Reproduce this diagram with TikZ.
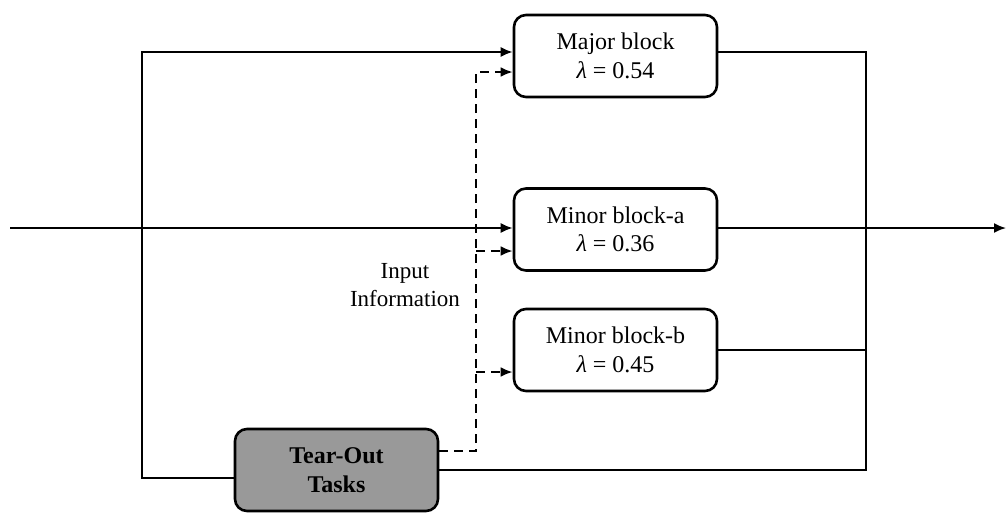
\documentclass[tikz,border=0pt]{standalone}
\usepackage{fontspec}
\setmainfont{Liberation Serif}
\usetikzlibrary{arrows.meta}
\begin{document}
\begin{tikzpicture}[x=1pt,y=-1pt,
  block/.style={draw,line width=2.6pt,rounded corners=12pt,minimum width=203pt,minimum height=82pt,align=center,font=\fontsize{24}{28.5}\selectfont,inner sep=0pt},
  conn/.style={line width=1.8pt},
  arr/.style={conn,-{Latex[length=12pt,width=10pt]}},
  dsh/.style={line width=2.4pt,dash pattern=on 9pt off 6pt},
  darr/.style={dsh,-{Latex[length=12pt,width=10pt]}}]
\useasboundingbox (0,0) rectangle (1007,512);
\node[block] (major) at (615.5,56) {Major block\\\textit{λ} = 0.54};
\node[block] (mina) at (615.5,229.5) {Minor block-a\\\textit{λ} = 0.36};
\node[block] (minb) at (615.5,350) {Minor block-b\\\textit{λ} = 0.45};
\node[block,fill=black!40,font=\fontsize{24}{28.5}\selectfont\bfseries] (tear) at (336.5,470) {Tear-Out\\Tasks};
\node[align=center,font=\fontsize{23}{28}\selectfont] (info) at (405,285) {Input\\Information};
\coordinate (in) at (10,228);
\coordinate (out) at (1006,228);
% left loop
\draw[arr] (tear.west |- 0,478) -- (142,478) -- (142,52) -- (major.west |- 0,52);
% main input and output
\draw[arr] (in) -- (mina.west |- in);
\draw[arr] (mina.east |- out) -- (out);
% right collector
\draw[conn] (major.east |- 0,52) -- (866,52) -- (866,470) -- (tear.east |- 0,470);
\draw[conn] (minb.east) -- (866,350);
% dashed input information
\draw[darr] (tear.east |- 0,451) -- (476,451) -- (476,72) -- (major.west |- 0,72);
\draw[darr] (476,251) -- (mina.west |- 0,251);
\draw[darr] (476,372) -- (minb.west |- 0,372);
\end{tikzpicture}
\end{document}
